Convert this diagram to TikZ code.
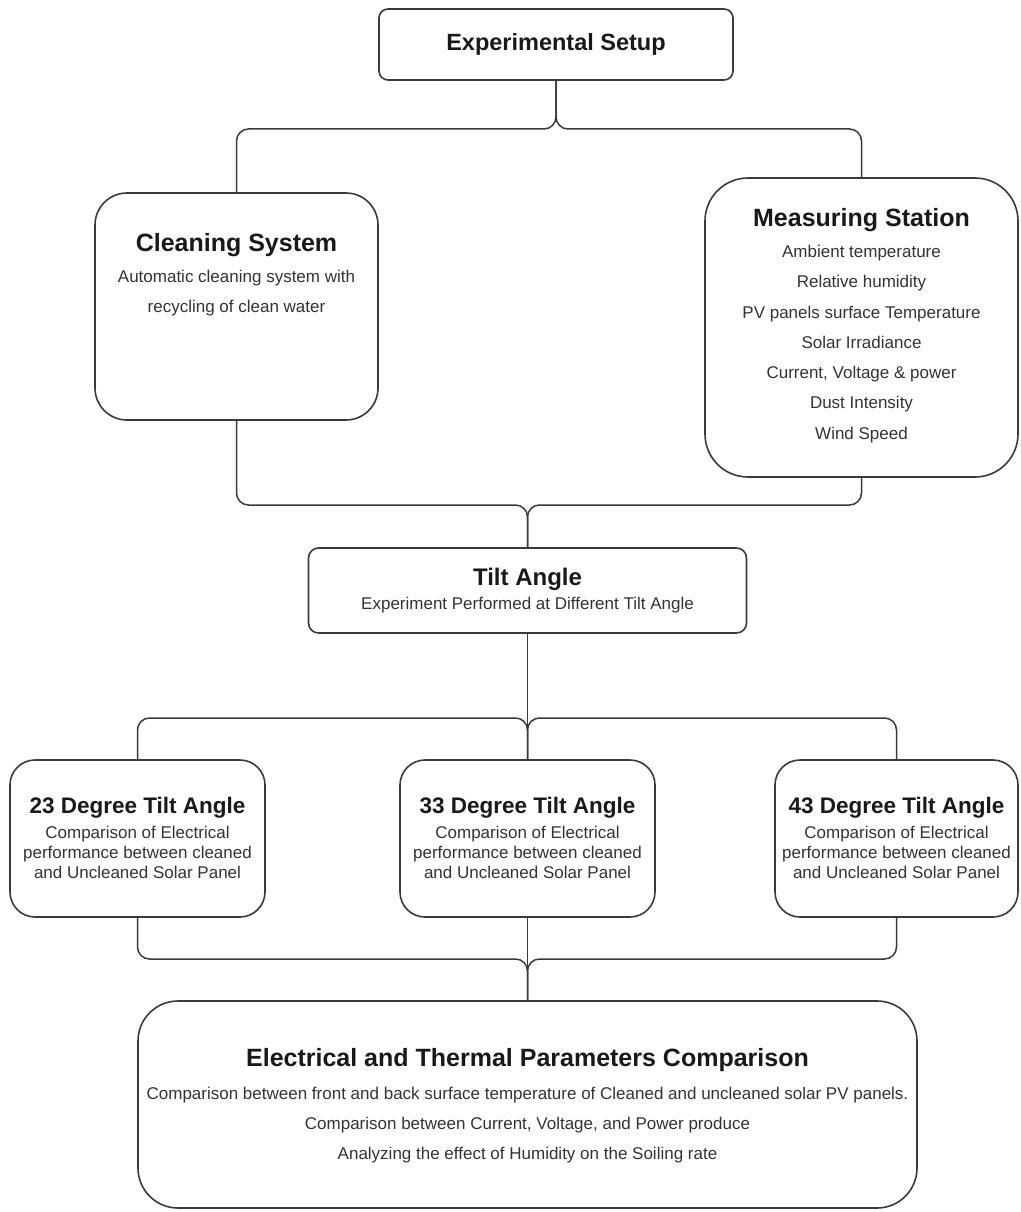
\documentclass[tikz,border=0pt]{standalone}
\usepackage{fontspec}
\setmainfont{Liberation Sans}
\definecolor{linegray}{HTML}{3A3A3A}
\definecolor{textgray}{HTML}{333333}
\begin{document}
\begin{tikzpicture}[x=1pt,y=-1pt,
    boxnode/.style={draw=linegray, line width=1.6pt, rectangle, inner sep=0pt, rounded corners=#1},
    headtext/.style={font=\bfseries\fontsize{#1}{#1}\selectfont, text=black!90, inner sep=0pt},
    bodytext/.style={font=\fontsize{17}{#1}\selectfont, text=textgray, align=center, inner sep=0pt},
    linkline/.style={draw=linegray, line width=1.5pt, rounded corners=12pt}]
  \useasboundingbox (0,0) rectangle (1020,1212);
  % boxes
  \node[boxnode=9pt, minimum width=354pt, minimum height=71pt] (exp) at (556,44.5) {};
  \node[boxnode=32pt, minimum width=283pt, minimum height=227pt] (clean) at (236.5,306.5) {};
  \node[boxnode=43pt, minimum width=313pt, minimum height=299pt] (meas) at (861.5,327.5) {};
  \node[boxnode=10pt, minimum width=438pt, minimum height=85pt] (tilt) at (527.5,590.5) {};
  \node[boxnode=25pt, minimum width=255pt, minimum height=157pt] (deg23) at (137.5,838.5) {};
  \node[boxnode=25pt, minimum width=255pt, minimum height=157pt] (deg33) at (527.5,838.5) {};
  \node[boxnode=25pt, minimum width=243pt, minimum height=157pt] (deg43) at (896.5,838.5) {};
  \node[boxnode=40pt, minimum width=779pt, minimum height=207pt] (elec) at (527.5,1104.5) {};
  % texts
  \node[headtext=23.5] (exptitle) at (556,44) {Experimental Setup};
  \node[headtext=25] (cleantitle) at (236.5,245) {Cleaning System};
  \node[bodytext=30] (cleanbody) at (236.5,293) {Automatic cleaning system with\\recycling of clean water};
  \node[headtext=25] (meastitle) at (861.5,220) {Measuring Station};
  \node[bodytext=30.3] (measbody) at (861.5,344) {Ambient temperature\\Relative humidity\\PV panels surface Temperature\\Solar Irradiance\\Current, Voltage \& power\\Dust Intensity\\Wind Speed};
  \node[headtext=24] (tilttitle) at (527.5,579) {Tilt Angle};
  \node[bodytext=20] (tiltbody) at (527.5,605) {Experiment Performed at Different Tilt Angle};
  \node[headtext=22.5] (title23) at (137.5,808) {23 Degree Tilt Angle};
  \node[bodytext=20] (body23) at (137.5,852) {Comparison of Electrical\\performance between cleaned\\and Uncleaned Solar Panel};
  \node[headtext=22.5] (title33) at (527.5,808) {33 Degree Tilt Angle};
  \node[bodytext=20] (body33) at (527.5,852) {Comparison of Electrical\\performance between cleaned\\and Uncleaned Solar Panel};
  \node[headtext=22.5] (title43) at (896.5,808) {43 Degree Tilt Angle};
  \node[bodytext=20] (body43) at (896.5,852) {Comparison of Electrical\\performance between cleaned\\and Uncleaned Solar Panel};
  \node[headtext=25] (electitle) at (527.5,1060) {Electrical and Thermal Parameters Comparison};
  \node[bodytext=30] (elecbody) at (527.5,1125) {Comparison between front and back surface temperature of Cleaned and uncleaned solar PV panels.\\Comparison between Current, Voltage, and Power produce\\Analyzing the effect of Humidity on the Soiling rate};
  % junctions
  \coordinate (j1) at (556,129);
  \coordinate (j2) at (527.5,505);
  \coordinate (j3) at (527.5,718);
  \coordinate (j4) at (527.5,959);
  % connectors
  \draw[linkline] (clean.north) |- (j1) -- (exp.south);
  \draw[linkline] (meas.north) |- (j1) -- (exp.south);
  \draw[linkline] (clean.south) |- (j2) -- (tilt.north);
  \draw[linkline] (meas.south) |- (j2) -- (tilt.north);
  \draw[linkline] (tilt.south) -- (deg33.north);
  \draw[linkline] (deg23.north) |- (j3) -- (deg33.north);
  \draw[linkline] (deg43.north) |- (j3) -- (deg33.north);
  \draw[linkline] (deg33.south) -- (elec.north);
  \draw[linkline] (deg23.south) |- (j4) -- (elec.north);
  \draw[linkline] (deg43.south) |- (j4) -- (elec.north);
\end{tikzpicture}
\end{document}
